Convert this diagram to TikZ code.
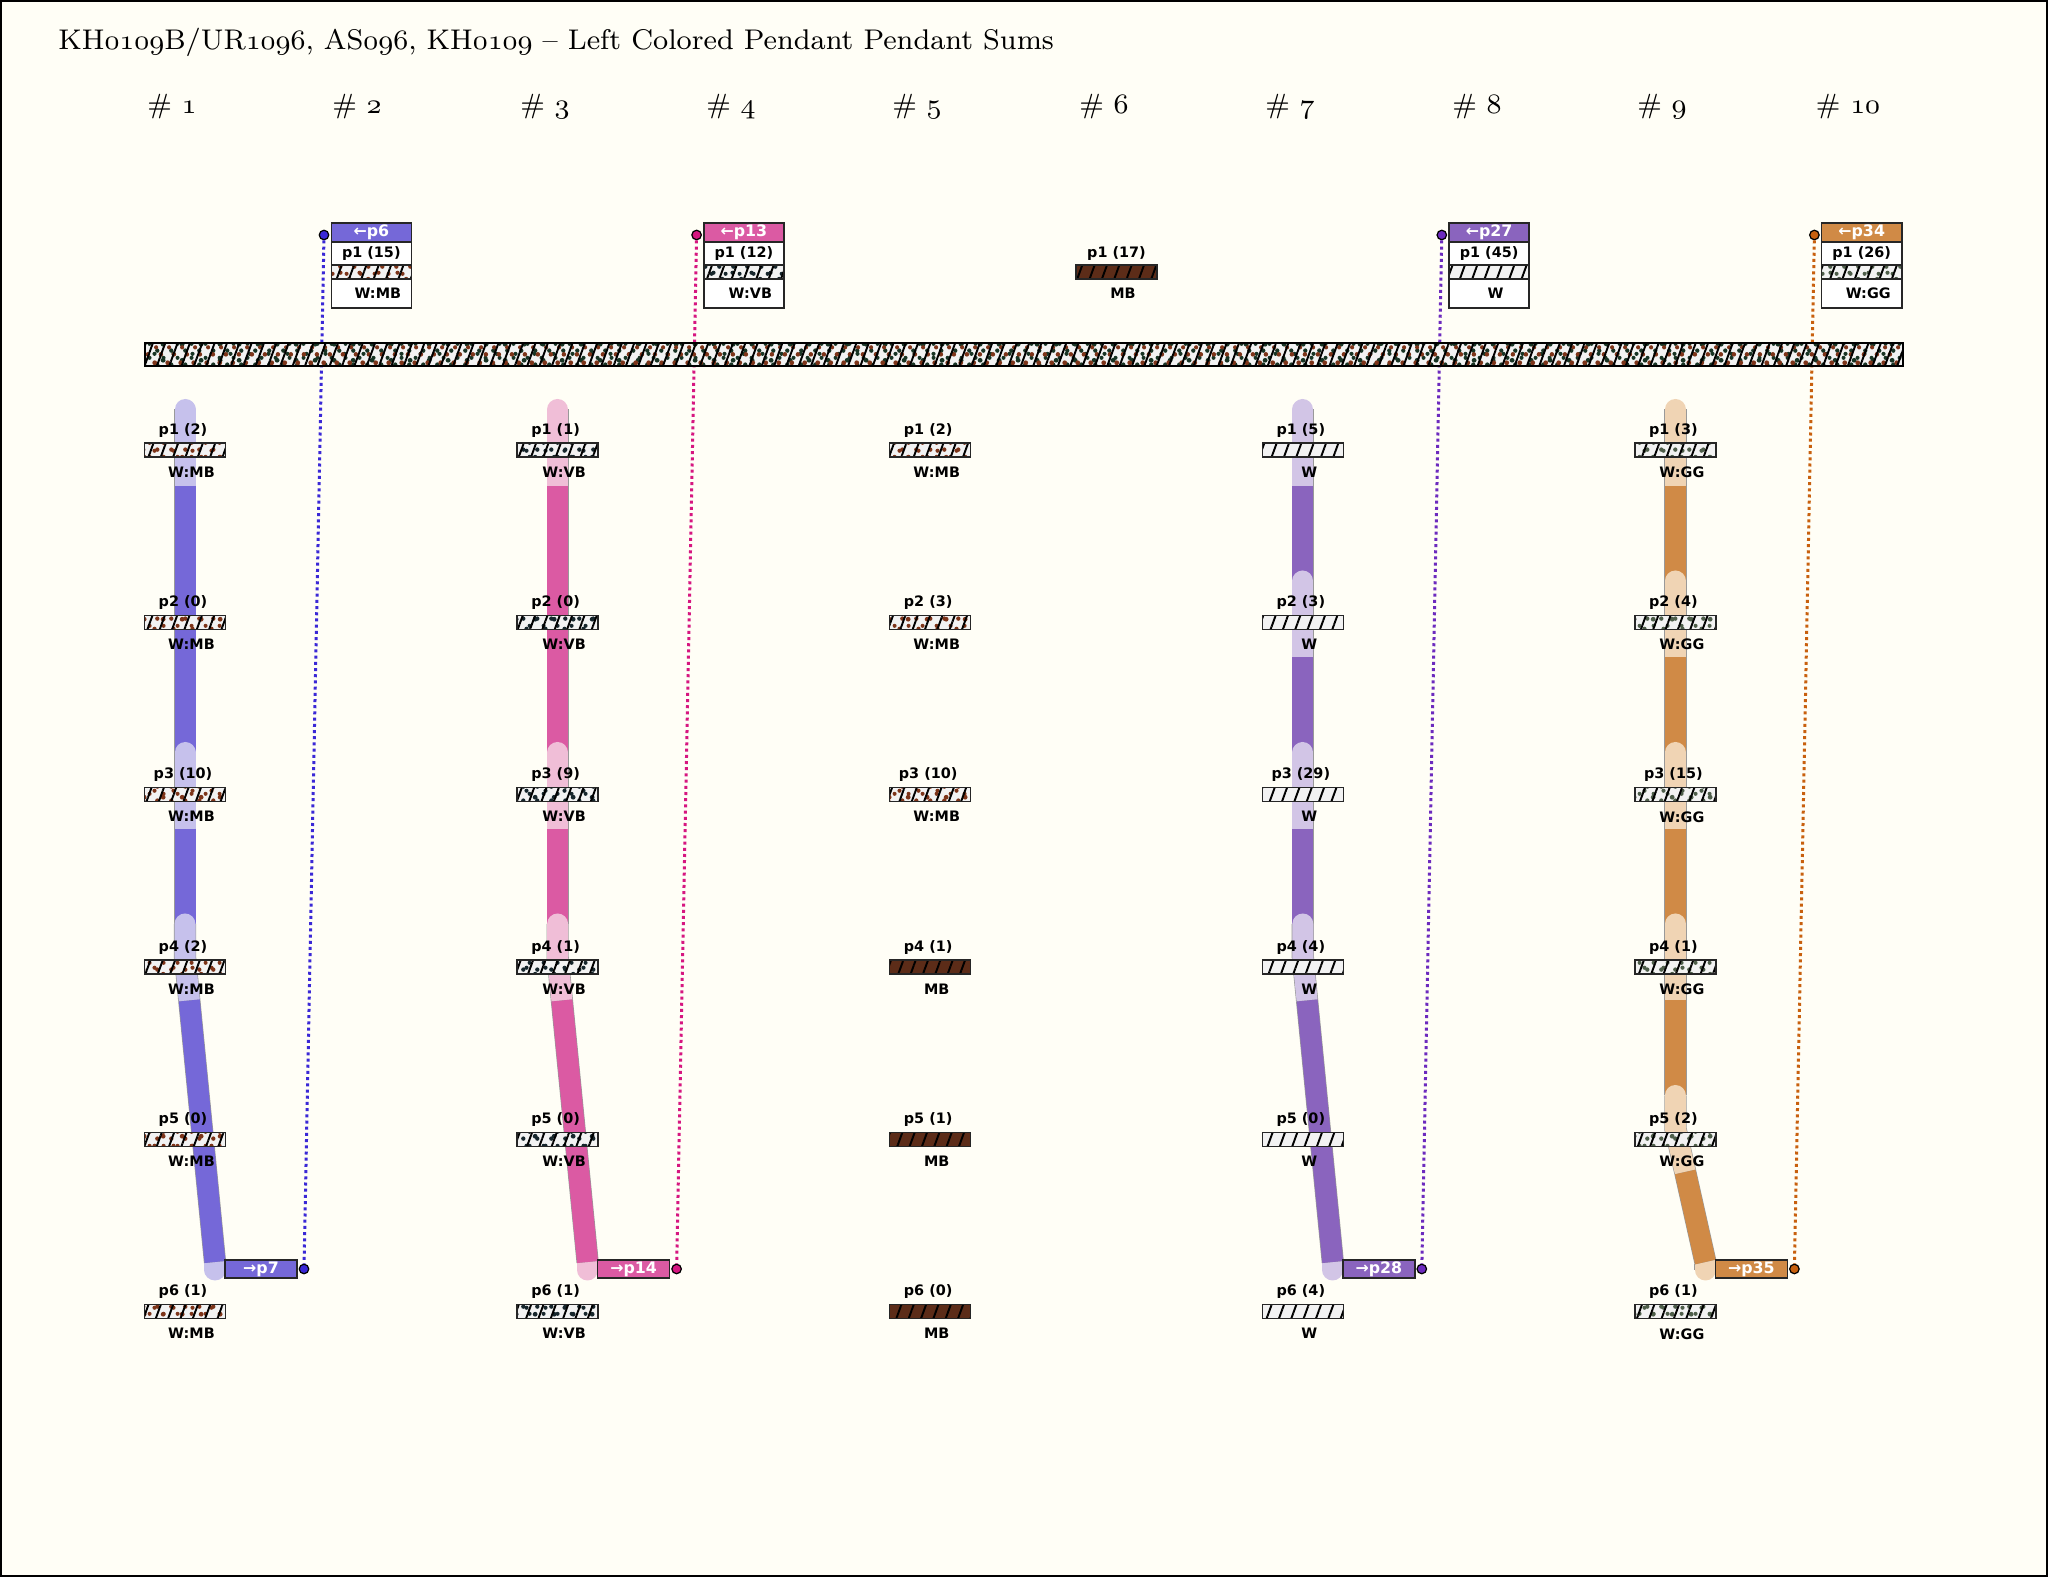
\documentclass[tikz,border=0pt]{standalone}
\usepackage{fontspec}
\newfontfamily\labfont{DejaVu Sans}
\usepackage{xcolor}
\definecolor{paper}{RGB}{255,254,246}
\definecolor{blueband}{RGB}{117,104,216}
\definecolor{bluelight}{RGB}{198,193,236}
\definecolor{bluelink}{RGB}{58,40,214}
\definecolor{pinkband}{RGB}{219,90,163}
\definecolor{pinklight}{RGB}{240,190,215}
\definecolor{pinklink}{RGB}{214,22,128}
\definecolor{purpband}{RGB}{138,100,190}
\definecolor{purplight}{RGB}{210,197,230}
\definecolor{purplink}{RGB}{108,42,190}
\definecolor{orngband}{RGB}{208,138,70}
\definecolor{ornglight}{RGB}{240,212,180}
\definecolor{ornglink}{RGB}{200,96,14}
\definecolor{mbrown}{RGB}{125,52,25}
\definecolor{mbsolid}{RGB}{92,44,24}
\definecolor{vbdark}{RGB}{22,38,44}
\definecolor{ggrey}{RGB}{78,94,74}
\definecolor{cordgreen}{RGB}{24,52,36}
\definecolor{barfill}{RGB}{242,242,242}
\usetikzlibrary{patterns.meta,positioning}
\tikzdeclarepattern{name=spotsa, type=uncolored,
  bounding box={(0pt,0pt) and (4pt,4pt)}, tile size={(4pt,4pt)},
  code={\fill (1.0pt,1.0pt) circle (0.65pt); \fill (2.9pt,3.0pt) circle (0.6pt);}}
\tikzdeclarepattern{name=spotsb, type=uncolored,
  bounding box={(0pt,0pt) and (5.3pt,4.6pt)}, tile size={(5.3pt,4.6pt)},
  code={\fill (1.6pt,3.3pt) circle (0.6pt); \fill (4.1pt,1.4pt) circle (0.7pt);}}
\tikzdeclarepattern{name=spotsc, type=uncolored,
  bounding box={(0pt,0pt) and (3.6pt,6.5pt)}, tile size={(3.6pt,6.5pt)},
  code={\fill (0.8pt,1.2pt) circle (0.7pt); \fill (2.6pt,3.6pt) circle (0.65pt); \fill (1.2pt,5.6pt) circle (0.6pt);}}
\newcommand\osf[1]{{\fontencoding{OML}\fontfamily{cmm}\fontseries{m}\fontshape{it}\selectfont #1}}

\begin{document}
\begin{tikzpicture}[
  plab/.style={font=\labfont\bfseries\fontsize{4.1}{4.8}\selectfont, inner sep=0pt,
               node distance=0.045cm, xshift=-0.02cm},
  wlab/.style={font=\labfont\bfseries\fontsize{4.1}{4.8}\selectfont, inner sep=0pt,
               node distance=0.085cm, xshift=0.065cm},
  bar/.style={rectangle, draw=black!85, line width=0.35pt, minimum width=0.81cm,
              minimum height=0.14cm, inner sep=0pt, preaction={fill=barfill}},
  hatch/.style={preaction={pattern={Lines[angle=70,distance=3.3pt,line width=0.55pt]},
                pattern color=black}},
  spots/.style={preaction={pattern=spotsa, pattern color=#1},
                preaction={pattern=spotsb, pattern color=#1}},
  wmb/.style={bar, spots=mbrown, hatch},
  wvb/.style={bar, spots=vbdark, hatch},
  wgg/.style={bar, spots=ggrey, hatch},
  wht/.style={bar, hatch},
  mbb/.style={bar, preaction={fill=mbsolid}, hatch},
  cord/.style={rectangle, draw=black, line width=0.75pt, minimum width=17.58cm,
               minimum height=0.23cm, inner sep=0pt, preaction={fill=barfill},
               spots=cordgreen, preaction={pattern=spotsc, pattern color=mbrown}, hatch},
  lband/.style={draw=#1, line width=0.21cm, line cap=round, line join=round,
                preaction={draw=black!40, line width=0.222cm}},
  dband/.style={draw=#1, line width=0.21cm,
                preaction={draw=black!40, line width=0.222cm}},
  tbox/.style={rectangle, draw=black!85, line width=0.45pt, fill=white,
               minimum width=0.80cm, minimum height=0.853cm, inner sep=0pt},
  thead/.style={rectangle, draw=black!85, line width=0.45pt, minimum width=0.80cm,
                minimum height=0.193cm, inner sep=0pt, text=white,
                font=\labfont\bfseries\fontsize{4.5}{5}\selectfont},
  obox/.style={rectangle, draw=black!85, line width=0.45pt, minimum width=0.72cm,
               minimum height=0.18cm, inner sep=0pt, text=white,
               font=\labfont\bfseries\fontsize{4.5}{5}\selectfont},
  enddot/.style={circle, draw=black, line width=0.35pt, minimum size=0.095cm, inner sep=0pt},
  link/.style={line width=0.03cm, dash pattern=on 0.03cm off 0.032cm},
  hdr/.style={font=\fontsize{7.9}{9}\selectfont, anchor=base}
]
\useasboundingbox (0,0) rectangle (20.48,-15.77);
\fill[paper] (0,0) rectangle (20.48,-15.77);
\draw[line width=0.6pt] (0.01,-0.01) rectangle (20.47,-15.76);

% Title and cord numbers
\node[anchor=base west, font=\fontsize{8.1}{9}\selectfont] (title) at (0.46,-0.50)
  {KH\osf{0109}B/UR\osf{1096}, AS\osf{096}, KH\osf{0109} -- Left Colored Pendant Pendant Sums};
\node[hdr] (h1)  at (1.72,-1.14)  {\# \osf{1}};
\node[hdr] (h2)  at (3.57,-1.14)  {\# \osf{2}};
\node[hdr] (h3)  at (5.45,-1.14)  {\# \osf{3}};
\node[hdr] (h4)  at (7.31,-1.14)  {\# \osf{4}};
\node[hdr] (h5)  at (9.17,-1.14)  {\# \osf{5}};
\node[hdr] (h6)  at (11.04,-1.14) {\# \osf{6}};
\node[hdr] (h7)  at (12.90,-1.14) {\# \osf{7}};
\node[hdr] (h8)  at (14.77,-1.14) {\# \osf{8}};
\node[hdr] (h9)  at (16.62,-1.14) {\# \osf{9}};
\node[hdr] (h10) at (18.48,-1.14) {\# \osf{10}};

% End dots and dotted sum links
\node[enddot, fill=bluelink] (t2d)  at (3.24,-2.35)   {};
\node[enddot, fill=pinklink] (t4d)  at (6.966,-2.35)  {};
\node[enddot, fill=purplink] (t8d)  at (14.418,-2.35) {};
\node[enddot, fill=ornglink] (t10d) at (18.144,-2.35) {};
\node[enddot, fill=bluelink] (o1d)  at (3.04,-12.69)  {};
\node[enddot, fill=pinklink] (o3d)  at (6.766,-12.69) {};
\node[enddot, fill=purplink] (o7d)  at (14.218,-12.69) {};
\node[enddot, fill=ornglink] (o9d)  at (17.944,-12.69) {};
\draw[link, draw=bluelink] (t2d)  -- (o1d);
\draw[link, draw=pinklink] (t4d)  -- (o3d);
\draw[link, draw=purplink] (t8d)  -- (o7d);
\draw[link, draw=ornglink] (t10d) -- (o9d);

% Main cord
\node[cord] (main) at (10.24,-3.545) {};

% Sum bands
\draw[lband=bluelight] (1.85,-4.095) -- (1.85,-4.86);
\draw[dband=blueband]  (1.85,-4.86)  -- (1.85,-7.525);
\draw[lband=bluelight] (1.85,-7.525) -- (1.85,-8.29);
\draw[dband=blueband]  (1.85,-8.29)  -- (1.85,-9.24);
\draw[lband=bluelight] (1.85,-9.24)  -- (1.85,-9.57) -- (1.893,-10.005);
\draw[lband=bluelight] (2.15,-12.64) -- (2.15,-12.70);
\draw[dband=blueband]  (1.893,-10.005) -- (2.15,-12.62);

\draw[lband=pinklight] (5.576,-4.095) -- (5.576,-4.86);
\draw[dband=pinkband]  (5.576,-4.86)  -- (5.576,-7.525);
\draw[lband=pinklight] (5.576,-7.525) -- (5.576,-8.29);
\draw[dband=pinkband]  (5.576,-8.29)  -- (5.576,-9.24);
\draw[lband=pinklight] (5.576,-9.24)  -- (5.576,-9.57) -- (5.619,-10.005);
\draw[lband=pinklight] (5.876,-12.64) -- (5.876,-12.70);
\draw[dband=pinkband]  (5.619,-10.005) -- (5.876,-12.62);

\draw[lband=purplight] (13.028,-4.095) -- (13.028,-4.86);
\draw[dband=purpband]  (13.028,-4.86)  -- (13.028,-5.81);
\draw[lband=purplight] (13.028,-5.81)  -- (13.028,-6.575);
\draw[dband=purpband]  (13.028,-6.575) -- (13.028,-7.525);
\draw[lband=purplight] (13.028,-7.525) -- (13.028,-8.29);
\draw[dband=purpband]  (13.028,-8.29)  -- (13.028,-9.24);
\draw[lband=purplight] (13.028,-9.24)  -- (13.028,-9.57) -- (13.071,-10.005);
\draw[lband=purplight] (13.328,-12.64) -- (13.328,-12.70);
\draw[dband=purpband]  (13.071,-10.005) -- (13.328,-12.62);

\draw[lband=ornglight] (16.754,-4.095) -- (16.754,-4.86);
\draw[dband=orngband]  (16.754,-4.86)  -- (16.754,-5.81);
\draw[lband=ornglight] (16.754,-5.81)  -- (16.754,-6.575);
\draw[dband=orngband]  (16.754,-6.575) -- (16.754,-7.525);
\draw[lband=ornglight] (16.754,-7.525) -- (16.754,-8.29);
\draw[dband=orngband]  (16.754,-8.29)  -- (16.754,-9.24);
\draw[lband=ornglight] (16.754,-9.24)  -- (16.754,-10.005);
\draw[dband=orngband]  (16.754,-10.005) -- (16.754,-10.955);
\draw[lband=ornglight] (16.754,-10.955) -- (16.754,-11.285) -- (16.852,-11.72);
\draw[lband=ornglight] (17.054,-12.64) -- (17.054,-12.70);
\draw[dband=orngband]  (16.852,-11.72) -- (17.054,-12.62);

% Cord 1 pendants
\node[wmb] (s1p1) at (1.85,-4.50)   {}; \node[plab, above=of s1p1] (s1p1t) {p1 (2)};  \node[wlab, below=of s1p1] (s1p1w) {W:MB};
\node[wmb] (s1p2) at (1.85,-6.223)  {}; \node[plab, above=of s1p2] (s1p2t) {p2 (0)};  \node[wlab, below=of s1p2] (s1p2w) {W:MB};
\node[wmb] (s1p3) at (1.85,-7.946)  {}; \node[plab, above=of s1p3] (s1p3t) {p3 (10)}; \node[wlab, below=of s1p3] (s1p3w) {W:MB};
\node[wmb] (s1p4) at (1.85,-9.669)  {}; \node[plab, above=of s1p4] (s1p4t) {p4 (2)};  \node[wlab, below=of s1p4] (s1p4w) {W:MB};
\node[wmb] (s1p5) at (1.85,-11.392) {}; \node[plab, above=of s1p5] (s1p5t) {p5 (0)};  \node[wlab, below=of s1p5] (s1p5w) {W:MB};
\node[wmb] (s1p6) at (1.85,-13.115) {}; \node[plab, above=of s1p6] (s1p6t) {p6 (1)};  \node[wlab, below=of s1p6] (s1p6w) {W:MB};

% Cord 3 pendants
\node[wvb] (s3p1) at (5.576,-4.50)   {}; \node[plab, above=of s3p1] (s3p1t) {p1 (1)}; \node[wlab, below=of s3p1] (s3p1w) {W:VB};
\node[wvb] (s3p2) at (5.576,-6.223)  {}; \node[plab, above=of s3p2] (s3p2t) {p2 (0)}; \node[wlab, below=of s3p2] (s3p2w) {W:VB};
\node[wvb] (s3p3) at (5.576,-7.946)  {}; \node[plab, above=of s3p3] (s3p3t) {p3 (9)}; \node[wlab, below=of s3p3] (s3p3w) {W:VB};
\node[wvb] (s3p4) at (5.576,-9.669)  {}; \node[plab, above=of s3p4] (s3p4t) {p4 (1)}; \node[wlab, below=of s3p4] (s3p4w) {W:VB};
\node[wvb] (s3p5) at (5.576,-11.392) {}; \node[plab, above=of s3p5] (s3p5t) {p5 (0)}; \node[wlab, below=of s3p5] (s3p5w) {W:VB};
\node[wvb] (s3p6) at (5.576,-13.115) {}; \node[plab, above=of s3p6] (s3p6t) {p6 (1)}; \node[wlab, below=of s3p6] (s3p6w) {W:VB};

% Cord 5 pendants
\node[wmb] (s5p1) at (9.302,-4.50)   {}; \node[plab, above=of s5p1] (s5p1t) {p1 (2)};  \node[wlab, below=of s5p1] (s5p1w) {W:MB};
\node[wmb] (s5p2) at (9.302,-6.223)  {}; \node[plab, above=of s5p2] (s5p2t) {p2 (3)};  \node[wlab, below=of s5p2] (s5p2w) {W:MB};
\node[wmb] (s5p3) at (9.302,-7.946)  {}; \node[plab, above=of s5p3] (s5p3t) {p3 (10)}; \node[wlab, below=of s5p3] (s5p3w) {W:MB};
\node[mbb] (s5p4) at (9.302,-9.669)  {}; \node[plab, above=of s5p4] (s5p4t) {p4 (1)};  \node[wlab, below=of s5p4] (s5p4w) {MB};
\node[mbb] (s5p5) at (9.302,-11.392) {}; \node[plab, above=of s5p5] (s5p5t) {p5 (1)};  \node[wlab, below=of s5p5] (s5p5w) {MB};
\node[mbb] (s5p6) at (9.302,-13.115) {}; \node[plab, above=of s5p6] (s5p6t) {p6 (0)};  \node[wlab, below=of s5p6] (s5p6w) {MB};

% Cord 7 pendants
\node[wht] (s7p1) at (13.028,-4.50)   {}; \node[plab, above=of s7p1] (s7p1t) {p1 (5)};  \node[wlab, below=of s7p1] (s7p1w) {W};
\node[wht] (s7p2) at (13.028,-6.223)  {}; \node[plab, above=of s7p2] (s7p2t) {p2 (3)};  \node[wlab, below=of s7p2] (s7p2w) {W};
\node[wht] (s7p3) at (13.028,-7.946)  {}; \node[plab, above=of s7p3] (s7p3t) {p3 (29)}; \node[wlab, below=of s7p3] (s7p3w) {W};
\node[wht] (s7p4) at (13.028,-9.669)  {}; \node[plab, above=of s7p4] (s7p4t) {p4 (4)};  \node[wlab, below=of s7p4] (s7p4w) {W};
\node[wht] (s7p5) at (13.028,-11.392) {}; \node[plab, above=of s7p5] (s7p5t) {p5 (0)};  \node[wlab, below=of s7p5] (s7p5w) {W};
\node[wht] (s7p6) at (13.028,-13.115) {}; \node[plab, above=of s7p6] (s7p6t) {p6 (4)};  \node[wlab, below=of s7p6] (s7p6w) {W};

% Cord 9 pendants
\node[wgg] (s9p1) at (16.754,-4.50)   {}; \node[plab, above=of s9p1] (s9p1t) {p1 (3)};  \node[wlab, below=of s9p1] (s9p1w) {W:GG};
\node[wgg] (s9p2) at (16.754,-6.223)  {}; \node[plab, above=of s9p2] (s9p2t) {p2 (4)};  \node[wlab, below=of s9p2] (s9p2w) {W:GG};
\node[wgg] (s9p3) at (16.754,-7.946)  {}; \node[plab, above=of s9p3] (s9p3t) {p3 (15)}; \node[wlab, below=of s9p3] (s9p3w) {W:GG};
\node[wgg] (s9p4) at (16.754,-9.669)  {}; \node[plab, above=of s9p4] (s9p4t) {p4 (1)};  \node[wlab, below=of s9p4] (s9p4w) {W:GG};
\node[wgg] (s9p5) at (16.754,-11.392) {}; \node[plab, above=of s9p5] (s9p5t) {p5 (2)};  \node[wlab, below=of s9p5] (s9p5w) {W:GG};
\node[wgg] (s9p6) at (16.754,-13.115) {}; \node[plab, above=of s9p6] (s9p6t) {p6 (1)};  \node[wlab, below=of s9p6] (s9p6w) {W:GG};

% Sum boxes at the band ends
\node[obox, fill=blueband] (o1) at (2.61,-12.69)   {→p7};
\node[obox, fill=pinkband] (o3) at (6.336,-12.69)  {→p14};
\node[obox, fill=purpband] (o7) at (13.788,-12.69) {→p28};
\node[obox, fill=orngband] (o9) at (17.514,-12.69) {→p35};

% Top pendants
\node[tbox] (t2) at (3.713,-2.654) {};
\node[thead, fill=blueband, anchor=north] (t2h) at (t2.north) {←p6};
\node[plab, xshift=0.02cm] (t2t) at (3.713,-2.535) {p1 (15)};
\node[wmb, minimum width=0.80cm] (t2b) at (3.713,-2.72) {};
\node[wlab] (t2w) at (3.713,-2.935) {W:MB};

\node[tbox] (t4) at (7.439,-2.654) {};
\node[thead, fill=pinkband, anchor=north] (t4h) at (t4.north) {←p13};
\node[plab, xshift=0.02cm] (t4t) at (7.439,-2.535) {p1 (12)};
\node[wvb, minimum width=0.80cm] (t4b) at (7.439,-2.72) {};
\node[wlab] (t4w) at (7.439,-2.935) {W:VB};

\node[plab, xshift=0.02cm] (t6t) at (11.165,-2.535) {p1 (17)};
\node[mbb] (t6b) at (11.165,-2.72) {};
\node[wlab] (t6w) at (11.165,-2.935) {MB};

\node[tbox] (t8) at (14.891,-2.654) {};
\node[thead, fill=purpband, anchor=north] (t8h) at (t8.north) {←p27};
\node[plab, xshift=0.02cm] (t8t) at (14.891,-2.535) {p1 (45)};
\node[wht, minimum width=0.80cm] (t8b) at (14.891,-2.72) {};
\node[wlab] (t8w) at (14.891,-2.935) {W};

\node[tbox] (t10) at (18.617,-2.654) {};
\node[thead, fill=orngband, anchor=north] (t10h) at (t10.north) {←p34};
\node[plab, xshift=0.02cm] (t10t) at (18.617,-2.535) {p1 (26)};
\node[wgg, minimum width=0.80cm] (t10b) at (18.617,-2.72) {};
\node[wlab] (t10w) at (18.617,-2.935) {W:GG};
\end{tikzpicture}
\end{document}
